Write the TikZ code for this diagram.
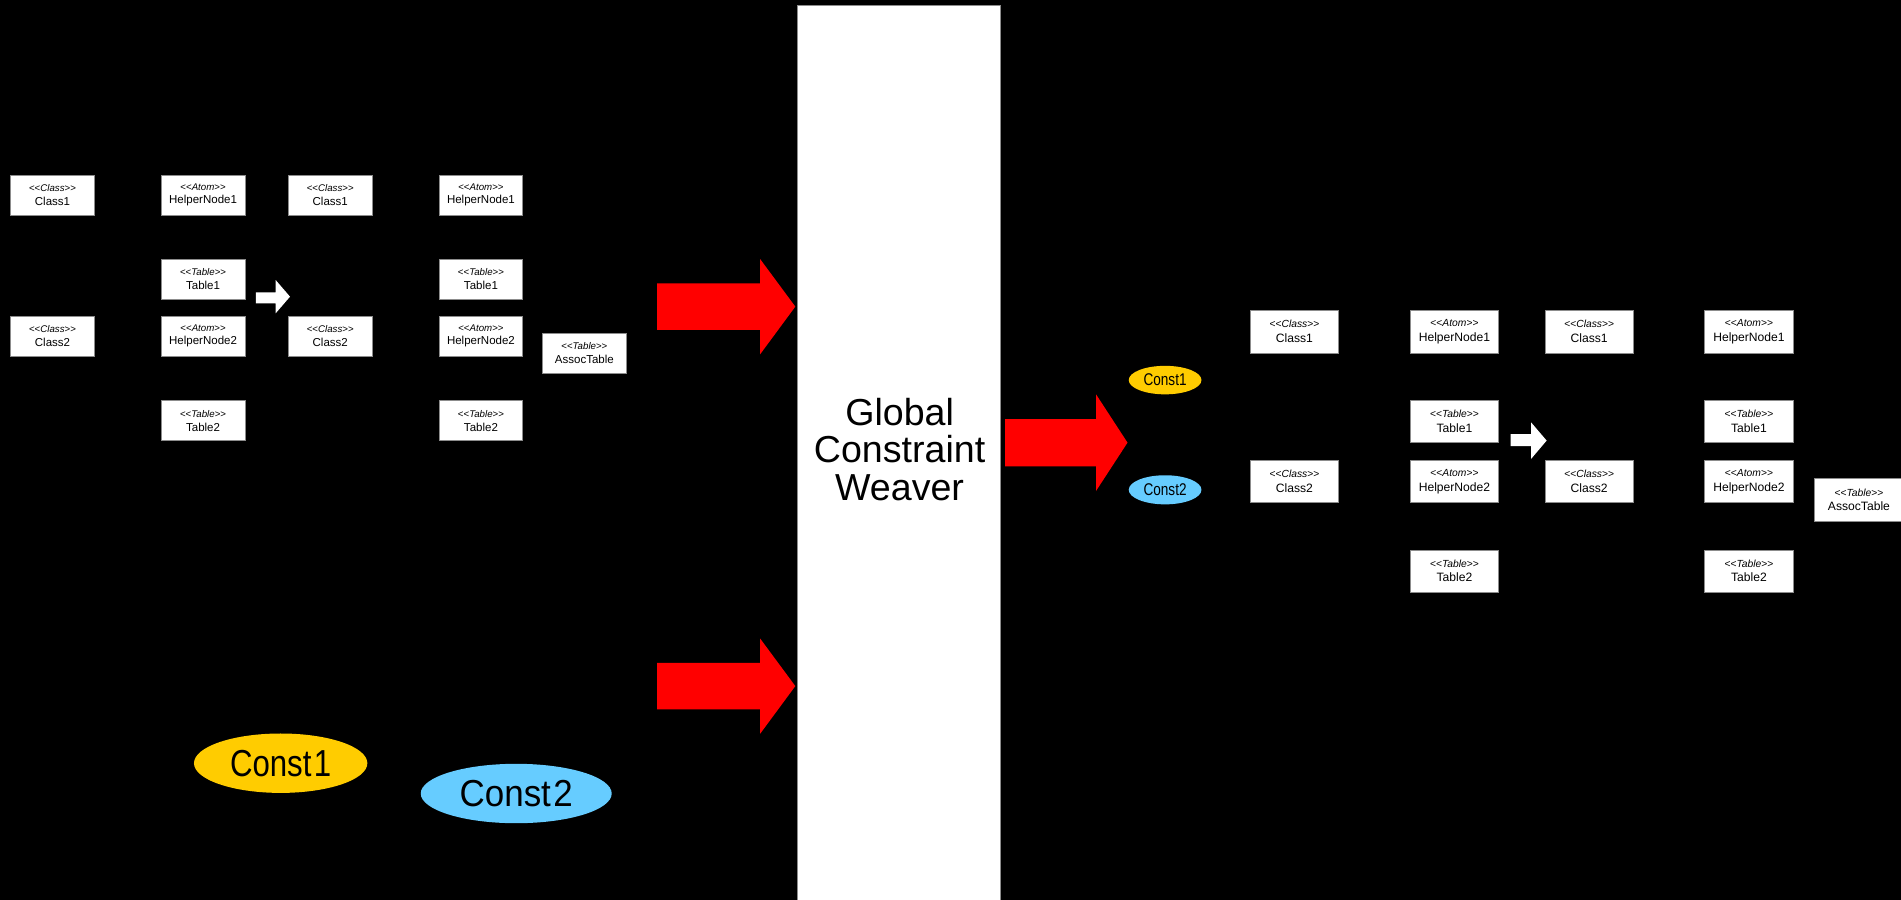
\documentclass[tikz,border=0pt]{standalone}
\usepackage{fontspec}
\setmainfont{Liberation Sans}
\newfontfamily\constbig[FakeStretch=0.83]{Liberation Sans}
\newfontfamily\constbigw[FakeStretch=0.93]{Liberation Sans}
\newfontfamily\constsmall[FakeStretch=0.8]{Liberation Sans}
\usetikzlibrary{shapes.geometric}

% stereotype line of a UML box, small and centred above the name
\newcommand\stL[1]{{\fontsize{8}{8.5}\selectfont{<}{<}\textit{#1}{>}{>}}}
\newcommand\stR[1]{{\fontsize{8.5}{9}\selectfont{<}{<}\textit{#1}{>}{>}}}

\definecolor{arrowred}{HTML}{FF0000}
\definecolor{constyellow}{HTML}{FFCC00}
\definecolor{constblue}{HTML}{66CCFF}

\tikzset{
  lbox/.style={rectangle, fill=white, draw=black!45, line width=0.5pt,
    minimum width=69pt, minimum height=33pt, inner sep=0pt, align=center,
    font=\fontsize{9.5}{11.5}\selectfont},
  rbox/.style={rectangle, fill=white, draw=black!45, line width=0.5pt,
    minimum width=73pt, minimum height=35pt, inner sep=0pt, align=center,
    font=\fontsize{10}{12}\selectfont},
  blockarrow/.style={fill=arrowred, draw=none},
  whitearrow/.style={fill=white, draw=none},
  constnode/.style={ellipse, draw=none, inner sep=0pt},
  weaverbox/.style={fill=white, draw=black!45, line width=0.7pt}
}

\begin{document}
\begin{tikzpicture}[x=1pt, y=-1pt]
  \fill[black] (0,0) rectangle (1568,742);
  \useasboundingbox (0,0) rectangle (1568,742);

  % ---------- input model ----------
  \node[lbox] (lc1)  at (43.3,160.7)  {\stL{Class}\\Class1};
  \node[lbox] (lh1)  at (167.5,160.7) {\stL{Atom}\\HelperNode1};
  \node[lbox] (lc1b) at (272.4,160.7) {\stL{Class}\\Class1};
  \node[lbox] (lh1b) at (396.7,160.7) {\stL{Atom}\\HelperNode1};
  \node[lbox] (lt1)  at (167.5,230.4) {\stL{Table}\\Table1};
  \node[lbox] (lt1b) at (396.7,230.4) {\stL{Table}\\Table1};
  \node[lbox] (lc2)  at (43.3,277)    {\stL{Class}\\Class2};
  \node[lbox] (lh2)  at (167.5,277)   {\stL{Atom}\\HelperNode2};
  \node[lbox] (lc2b) at (272.4,277)   {\stL{Class}\\Class2};
  \node[lbox] (lh2b) at (396.7,277)   {\stL{Atom}\\HelperNode2};
  \node[lbox] (las)  at (482,291.4)   {\stL{Table}\\AssocTable};
  \node[lbox] (lt2)  at (167.5,346.9) {\stL{Table}\\Table2};
  \node[lbox] (lt2b) at (396.7,346.9) {\stL{Table}\\Table2};

  \fill[whitearrow] (211,241.1) -- (227.4,241.1) -- (227.4,231) -- (239.2,244.7)
    -- (227.4,258.4) -- (227.4,250.2) -- (211,250.2) -- cycle;

  % ---------- constraints ----------
  \node[constnode, fill=constyellow, minimum width=143pt, minimum height=49pt]
    (k1) at (231.5,629.5) {\constbig\fontsize{31}{31}\selectfont Const\kern2pt1};
  \node[constnode, fill=constblue, minimum width=157.5pt, minimum height=49pt]
    (k2) at (425.8,654.5) {\constbigw\fontsize{31}{31}\selectfont Const\kern2pt2};

  % ---------- inputs into the weaver ----------
  \fill[blockarrow] (542,233.7) -- (627,233.7) -- (627,213.7) -- (656,252.9)
    -- (627,292.2) -- (627,272) -- (542,272) -- cycle;
  \fill[blockarrow] (542,546.7) -- (627,546.7) -- (627,526.7) -- (656,565.9)
    -- (627,605.2) -- (627,585) -- (542,585) -- cycle;

  % ---------- weaver ----------
  \draw[weaverbox] (658,4.7) rectangle (825.4,750);
  \node[align=center, font=\fontsize{31}{31}\selectfont] (gcw) at (742,370.5)
    {Global\\Constraint\\Weaver};

  \fill[blockarrow] (829,345.6) -- (904,345.6) -- (904,325.2) -- (930,365.1)
    -- (904,405) -- (904,384.6) -- (829,384.6) -- cycle;

  % ---------- woven result ----------
  \node[constnode, fill=constyellow, minimum width=60pt, minimum height=23.5pt]
    (s1) at (961,313.5) {\constsmall\fontsize{14}{14}\selectfont Const1};
  \node[constnode, fill=constblue, minimum width=60pt, minimum height=24pt]
    (s2) at (961,404) {\constsmall\fontsize{14}{14}\selectfont Const2};

  \node[rbox] (rc1)  at (1067.7,273.5) {\stR{Class}\\Class1};
  \node[rbox] (rh1)  at (1199.7,273.5) {\stR{Atom}\\HelperNode1};
  \node[rbox] (rc1b) at (1310.8,273.5) {\stR{Class}\\Class1};
  \node[rbox] (rh1b) at (1442.6,273.5) {\stR{Atom}\\HelperNode1};
  \node[rbox] (rt1)  at (1199.7,347.6) {\stR{Table}\\Table1};
  \node[rbox] (rt1b) at (1442.6,347.6) {\stR{Table}\\Table1};
  \node[rbox] (rc2)  at (1067.7,397.1) {\stR{Class}\\Class2};
  \node[rbox] (rh2)  at (1199.7,397.1) {\stR{Atom}\\HelperNode2};
  \node[rbox] (rc2b) at (1310.8,397.1) {\stR{Class}\\Class2};
  \node[rbox] (rh2b) at (1442.6,397.1) {\stR{Atom}\\HelperNode2};
  \node[rbox] (ras)  at (1533.3,412.1) {\stR{Table}\\AssocTable};
  \node[rbox] (rt2)  at (1199.7,471)   {\stR{Table}\\Table2};
  \node[rbox] (rt2b) at (1442.6,471)   {\stR{Table}\\Table2};

  \fill[whitearrow] (1246,358) -- (1262.8,358) -- (1262.8,348.3) -- (1275.7,363.4)
    -- (1262.8,378.6) -- (1262.8,368) -- (1246,368) -- cycle;
\end{tikzpicture}
\end{document}
